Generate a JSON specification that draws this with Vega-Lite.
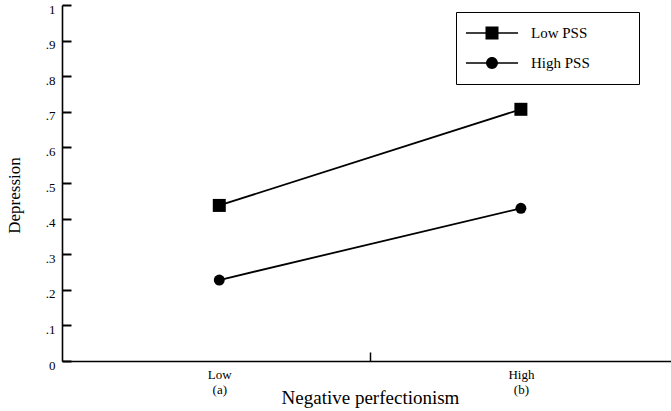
{
  "$schema": "https://vega.github.io/schema/vega-lite/v6.json",
  "autosize": "none",
  "width": 609,
  "height": 356,
  "padding": {"left": 62, "top": 5, "right": 0, "bottom": 50},
  "background": "white",
  "config": {
    "view": {"stroke": null},
    "font": "Liberation Serif",
    "axis": {"grid": false, "domainColor": "black", "domainWidth": 1.6, "tickColor": "black", "tickWidth": 1.5, "labelColor": "black", "titleColor": "black", "labelFont": "Liberation Serif", "titleFont": "Liberation Serif", "titleFontWeight": "normal"}
  },
  "data": {
    "values": [
      {"perf": 1, "pss": "Low PSS", "dep": 0.437},
      {"perf": 2, "pss": "Low PSS", "dep": 0.707},
      {"perf": 1, "pss": "High PSS", "dep": 0.2275},
      {"perf": 2, "pss": "High PSS", "dep": 0.429}
    ]
  },
  "encoding": {
    "x": {
      "field": "perf", "type": "quantitative",
      "scale": {"domain": [0.4785, 2.4977], "nice": false, "zero": false},
      "axis": {
        "orient": "top", "offset": -356,
        "title": "Negative perfectionism",
        "titleFontSize": 19,
        "titleX": 308, "titleY": 36, "titleBaseline": "middle",
        "values": [1, 1.5, 2],
        "labelExpr": "datum.value == 1 ? ['Low', '(a)'] : datum.value == 2 ? ['High', '(b)'] : ''",
        "labelFontSize": 13, "labelLineHeight": 15, "labelBaseline": "top",
        "labelPadding": -16, "labelFlush": false, "labelOverlap": false,
        "tickSize": 9,
        "tickColor": {"condition": {"test": "datum.value == 1.5", "value": "black"}, "value": "transparent"}
      }
    },
    "y": {
      "field": "dep", "type": "quantitative",
      "scale": {"domain": [0, 1], "nice": false},
      "axis": {
        "orient": "right", "offset": -609,
        "title": "Depression",
        "titleFontSize": 17,
        "titleX": -48, "titleY": 190, "titleBaseline": "middle", "titleAngle": -90, "titleAlign": "center",
        "values": [0, 0.1, 0.2, 0.3, 0.4, 0.5, 0.6, 0.7, 0.8, 0.9, 1],
        "labelExpr": "datum.value == 0 ? '0' : datum.value == 1 ? '1' : replace(format(datum.value, '.1f'), '0.', '.')",
        "labelFontSize": 13, "labelPadding": -16, "labelAlign": "right", "labelBaseline": "middle",
        "labelOffset": 4,
        "ticks": true, "tickSize": 9, "tickColor": "black", "tickOpacity": 1, "tickWidth": 2
      }
    }
  },
  "layer": [
    {
      "mark": {"type": "line", "color": "black", "strokeWidth": 1.8},
      "encoding": {"detail": {"field": "pss"}}
    },
    {
      "mark": {"type": "point", "filled": true, "color": "black", "opacity": 1},
      "encoding": {
        "shape": {
          "field": "pss", "type": "nominal",
          "scale": {"domain": ["Low PSS", "High PSS"], "range": ["square", "circle"]},
          "legend": null
        },
        "size": {"condition": {"test": "datum.pss === 'Low PSS'", "value": 169}, "value": 120}
      }
    },
    {
      "mark": {"type": "point", "filled": true, "color": "black", "opacity": 1, "size": 0},
      "encoding": {
        "shape": {
          "field": "pss", "type": "nominal",
          "scale": {"domain": ["Low PSS", "High PSS"], "range": ["M-1,-0.03H1V0.03H-1Z M-0.25,-0.25H0.25V0.25H-0.25Z", "M-1,-0.03H1V0.03H-1Z M-0.23,0A0.23,0.23,0,1,1,0.23,0A0.23,0.23,0,1,1,-0.23,0Z"]},
          "legend": {
            "title": ".",
            "titleOrient": "right", "titlePadding": 38, "titleFontSize": 2, "titleColor": "white",
            "orient": "none",
            "legendX": 394, "legendY": 7,
            "strokeColor": "black", "fillColor": "white",
            "padding": 10,
            "labelFont": "Liberation Serif", "labelFontSize": 15, "labelColor": "black",
            "labelOffset": 13, "clipHeight": 22, "rowPadding": 8,
            "symbolSize": 2704, "symbolStrokeWidth": 0, "symbolOpacity": 1, "symbolFillColor": "black"
          }
        }
      }
    }
  ],
  "resolve": {"scale": {"shape": "independent"}}
}
